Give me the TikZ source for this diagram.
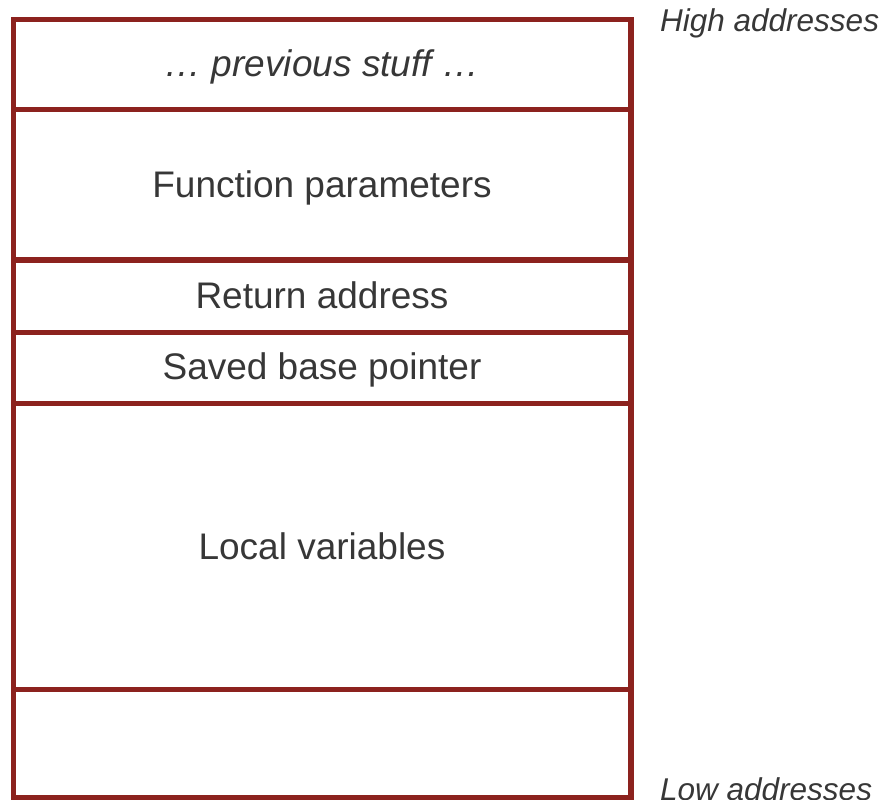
\documentclass[tikz,border=0pt]{standalone}
\usepackage{fontspec}
\setmainfont{Liberation Sans}
\definecolor{frame}{RGB}{140,34,30}
\definecolor{txt}{RGB}{55,55,55}
\begin{document}
\begin{tikzpicture}[x=1pt,y=-1pt,
  frameline/.style={draw=frame,line width=5.5pt},
  celltext/.style={anchor=base,text=txt,font=\fontsize{37}{41}\selectfont,inner sep=0pt},
  sidetext/.style={anchor=base west,text=txt,font=\fontsize{31.5}{35}\selectfont\itshape,inner sep=0pt}]
\useasboundingbox (0,0) rectangle (887,800);
\draw[frameline] (13.5,19.5) rectangle (631,797.5);
\foreach \yy in {109.5,260,332.5,403.5,689.5}
  \draw[frameline] (13.5,\yy) -- (631,\yy);
\node[celltext,font=\fontsize{37}{41}\selectfont\itshape] (prev) at (322,77) {… previous stuff …};
\node[celltext] (params) at (322,197) {Function parameters};
\node[celltext] (ret) at (322,308) {Return address};
\node[celltext] (sbp) at (322,379) {Saved base pointer};
\node[celltext] (locals) at (322,559.5) {Local variables};
\node[sidetext] (high) at (660,32) {High addresses};
\node[sidetext] (low) at (660,800.5) {Low addresses};
\end{tikzpicture}
\end{document}
